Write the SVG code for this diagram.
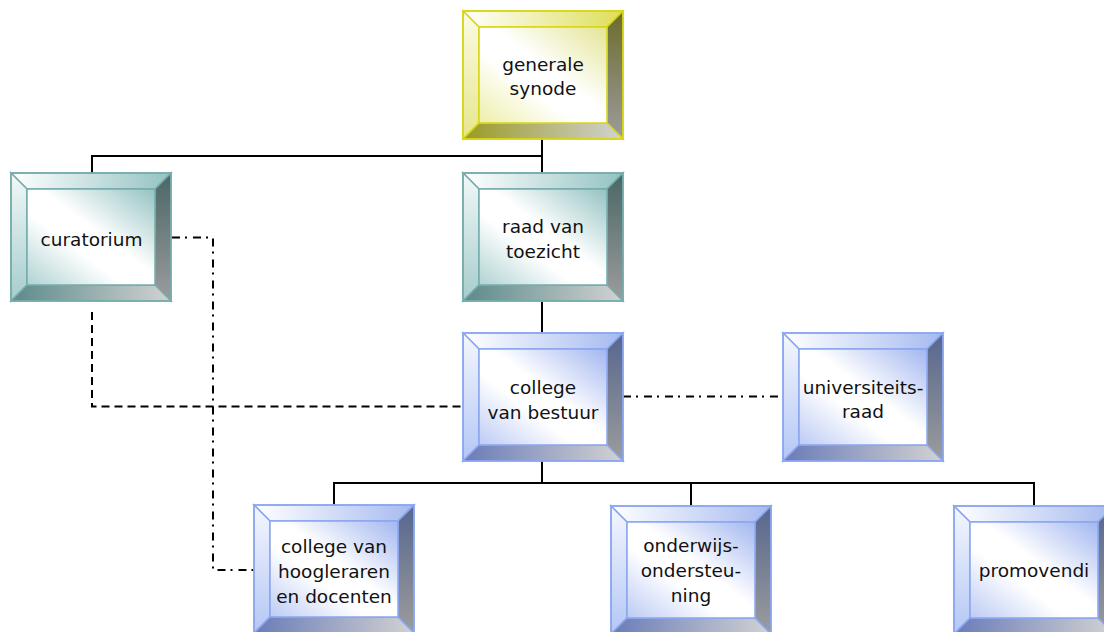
<svg xmlns="http://www.w3.org/2000/svg" xmlns:xlink="http://www.w3.org/1999/xlink" width="1104" height="632" viewBox="0 0 1104 632">
<style>
text{font-family:"DejaVu Sans","Liberation Sans",sans-serif;font-size:18.5px;fill:#111;text-anchor:middle}
.solid{fill:none;stroke:#000;stroke-width:2}
.dash{fill:none;stroke:#000;stroke-width:2;stroke-dasharray:8 5}
.dashdot{fill:none;stroke:#000;stroke-width:2;stroke-dasharray:8 5 2 6}
</style>
<defs>
<!-- blue -->
<linearGradient id="bTop" x1="0" y1="0" x2="1" y2="0"><stop offset="0" stop-color="#ffffff"/><stop offset="1" stop-color="#a6baf0"/></linearGradient>
<linearGradient id="bLeft" x1="0" y1="0" x2="0" y2="1"><stop offset="0" stop-color="#f4f7fe"/><stop offset="1" stop-color="#b4c6f4"/></linearGradient>
<linearGradient id="bRight" x1="0" y1="0" x2="0" y2="1"><stop offset="0" stop-color="#56668e"/><stop offset="1" stop-color="#9c9c9c"/></linearGradient>
<linearGradient id="bBot" x1="0" y1="0" x2="1" y2="0"><stop offset="0" stop-color="#6a7cb8"/><stop offset="1" stop-color="#d2d2d2"/></linearGradient>
<linearGradient id="bFace" x1="1" y1="0" x2="0" y2="1"><stop offset="0" stop-color="#a2b6f0"/><stop offset="0.45" stop-color="#ffffff"/><stop offset="0.62" stop-color="#ffffff"/><stop offset="1" stop-color="#bccbf4"/></linearGradient>
<!-- teal -->
<linearGradient id="tTop" x1="0" y1="0" x2="1" y2="0"><stop offset="0" stop-color="#ffffff"/><stop offset="1" stop-color="#94c2c2"/></linearGradient>
<linearGradient id="tLeft" x1="0" y1="0" x2="0" y2="1"><stop offset="0" stop-color="#f2f8f8"/><stop offset="1" stop-color="#a6cccc"/></linearGradient>
<linearGradient id="tRight" x1="0" y1="0" x2="0" y2="1"><stop offset="0" stop-color="#4a6666"/><stop offset="1" stop-color="#9c9c9c"/></linearGradient>
<linearGradient id="tBot" x1="0" y1="0" x2="1" y2="0"><stop offset="0" stop-color="#5c8a8a"/><stop offset="1" stop-color="#d2d2d2"/></linearGradient>
<linearGradient id="tFace" x1="1" y1="0" x2="0" y2="1"><stop offset="0" stop-color="#94c2c2"/><stop offset="0.45" stop-color="#ffffff"/><stop offset="0.62" stop-color="#ffffff"/><stop offset="1" stop-color="#b0d2d2"/></linearGradient>
<!-- yellow -->
<linearGradient id="yTop" x1="0" y1="0" x2="1" y2="0"><stop offset="0" stop-color="#ffffff"/><stop offset="1" stop-color="#dede58"/></linearGradient>
<linearGradient id="yLeft" x1="0" y1="0" x2="0" y2="1"><stop offset="0" stop-color="#fbfbe6"/><stop offset="1" stop-color="#e6e68c"/></linearGradient>
<linearGradient id="yRight" x1="0" y1="0" x2="0" y2="1"><stop offset="0" stop-color="#6c6c2c"/><stop offset="1" stop-color="#9c9c9c"/></linearGradient>
<linearGradient id="yBot" x1="0" y1="0" x2="1" y2="0"><stop offset="0" stop-color="#9a9a26"/><stop offset="1" stop-color="#d2d2d2"/></linearGradient>
<linearGradient id="yFace" x1="1" y1="0" x2="0" y2="1"><stop offset="0" stop-color="#e4e496"/><stop offset="0.45" stop-color="#ffffff"/><stop offset="0.62" stop-color="#ffffff"/><stop offset="1" stop-color="#eeeea8"/></linearGradient>

<g id="boxBlue" stroke="#8aa6f0" stroke-width="1.5">
<polygon points="0,0 160,0 144,16 16,16" fill="url(#bTop)"/>
<polygon points="0,0 16,16 16,112 0,128" fill="url(#bLeft)"/>
<polygon points="160,0 160,128 144,112 144,16" fill="url(#bRight)"/>
<polygon points="0,128 16,112 144,112 160,128" fill="url(#bBot)"/>
<rect x="16" y="16" width="128" height="96" fill="url(#bFace)"/>
<rect x="0" y="0" width="160" height="128" fill="none"/>
</g>
<g id="boxTeal" stroke="#76acac" stroke-width="1.5">
<polygon points="0,0 160,0 144,16 16,16" fill="url(#tTop)"/>
<polygon points="0,0 16,16 16,112 0,128" fill="url(#tLeft)"/>
<polygon points="160,0 160,128 144,112 144,16" fill="url(#tRight)"/>
<polygon points="0,128 16,112 144,112 160,128" fill="url(#tBot)"/>
<rect x="16" y="16" width="128" height="96" fill="url(#tFace)"/>
<rect x="0" y="0" width="160" height="128" fill="none"/>
</g>
<g id="boxYellow" stroke="#d6d616" stroke-width="1.5">
<polygon points="0,0 160,0 144,16 16,16" fill="url(#yTop)"/>
<polygon points="0,0 16,16 16,112 0,128" fill="url(#yLeft)"/>
<polygon points="160,0 160,128 144,112 144,16" fill="url(#yRight)"/>
<polygon points="0,128 16,112 144,112 160,128" fill="url(#yBot)"/>
<rect x="16" y="16" width="128" height="96" fill="url(#yFace)"/>
<rect x="0" y="0" width="160" height="128" fill="none"/>
</g>
</defs>

<rect width="1104" height="632" fill="#ffffff"/>

<g id="connectors">
<path class="solid" d="M542,139 V173 M92,173 V156 H542"/>
<path class="solid" d="M542,302 V333"/>
<path class="solid" d="M542,461 V483 M334,505 V483 H1034 V506 M691,483 V506"/>
<path class="dash" d="M92,312 V406.5 H463"/>
<path class="dashdot" d="M172,237.5 H213 V570 H254"/>
<path class="dashdot" d="M623,396.5 H783"/>
</g>

<g id="generale-synode" transform="translate(463,11)">
<use xlink:href="#boxYellow"/>
<text x="80" y="60">generale</text>
<text x="80" y="84">synode</text>
</g>
<g id="curatorium" transform="translate(11,173)">
<use xlink:href="#boxTeal"/>
<text x="80.5" y="73">curatorium</text>
</g>
<g id="raad-van-toezicht" transform="translate(463,173)">
<use xlink:href="#boxTeal"/>
<text x="80" y="60">raad van</text>
<text x="80" y="85">toezicht</text>
</g>
<g id="college-van-bestuur" transform="translate(463,333)">
<use xlink:href="#boxBlue"/>
<text x="80" y="61">college</text>
<text x="80" y="86">van bestuur</text>
</g>
<g id="universiteitsraad" transform="translate(783,333)">
<use xlink:href="#boxBlue"/>
<text x="80" y="61">universiteits-</text>
<text x="80" y="85">raad</text>
</g>
<g id="college-van-hoogleraren" transform="translate(254,505)">
<use xlink:href="#boxBlue"/>
<text x="80" y="48">college van</text>
<text x="80" y="73">hoogleraren</text>
<text x="80" y="98">en docenten</text>
</g>
<g id="onderwijsondersteuning" transform="translate(611,506)">
<use xlink:href="#boxBlue"/>
<text x="80" y="46">onderwijs-</text>
<text x="80" y="71">ondersteu-</text>
<text x="80" y="96">ning</text>
</g>
<g id="promovendi" transform="translate(954,506)">
<use xlink:href="#boxBlue"/>
<text x="80" y="71">promovendi</text>
</g>
</svg>
